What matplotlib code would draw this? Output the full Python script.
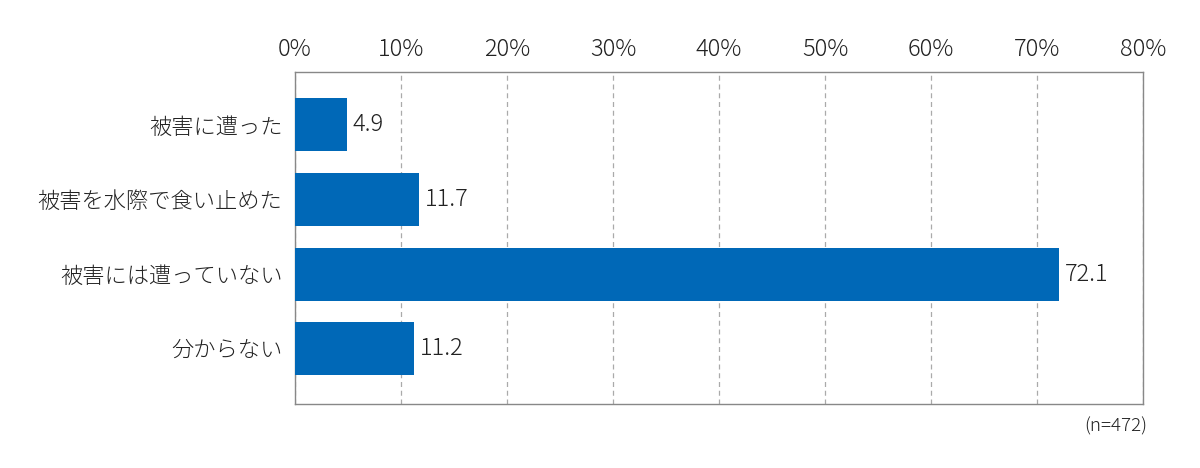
import matplotlib
matplotlib.use('Agg')
import matplotlib.pyplot as plt

plt.rcParams['font.family'] = ['Noto Sans CJK JP', 'DejaVu Sans']

categories = ['被害に遭った', '被害を水際で食い止めた', '被害には遭っていない', '分からない']
values = [4.9, 11.7, 72.1, 11.2]
xticks = [0, 10, 20, 30, 40, 50, 60, 70, 80]
xticklabels = ['%d%%' % t for t in xticks]
note = '(n=472)'

BAR_COLOR = '#0068b7'
TEXT_COLOR = '#222222'


def drawChart():
	fig = plt.figure(figsize=(12, 4.68), dpi=100)
	ax = fig.add_axes([0.2458, 0.1368, 0.7067, 0.7094])
	pos = list(range(len(categories)))
	ax.barh(pos, values, height=0.71, color=BAR_COLOR, zorder=3)
	for p, v in zip(pos, values):
		ax.text(v + 0.55, p, '%.1f' % v, va='center', ha='left',
				fontsize=17, color=TEXT_COLOR, fontweight='light')
	ax.set_xlim(0, 80)
	ax.set_ylim(3.74, -0.71)
	ax.set_yticks(pos)
	ax.set_yticklabels(categories, fontsize=16, color=TEXT_COLOR, fontweight='light')
	ax.set_xticks(xticks)
	ax.set_xticklabels(xticklabels, fontsize=17, color=TEXT_COLOR, fontweight='light')
	ax.xaxis.tick_top()
	ax.tick_params(axis='both', length=0)
	ax.tick_params(axis='x', pad=7)
	ax.tick_params(axis='y', pad=9)
	ax.xaxis.grid(True, linestyle=(0, (4, 3)), color='#aaaaaa', linewidth=0.9, zorder=0)
	for s in ax.spines.values():
		s.set_color('#888888')
		s.set_linewidth(1.0)
	ax.text(1.005, -0.04, note, transform=ax.transAxes, ha='right', va='top',
			fontsize=13.5, color=TEXT_COLOR, fontweight='light')
	fig.savefig('out.png', dpi=100)


def main():
	drawChart()

if __name__ == "__main__":
	main()
